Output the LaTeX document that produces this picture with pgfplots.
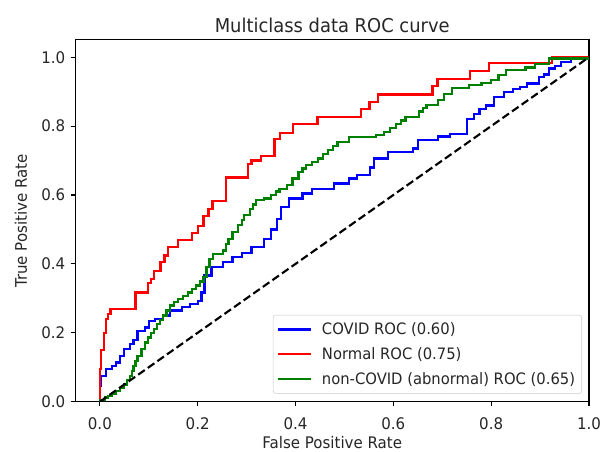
\documentclass[border=0pt]{standalone}
\usepackage{fontspec}
\setmainfont{DejaVu Sans}[FakeStretch=0.94]
\usepackage{pgfplots}
\pgfplotsset{compat=1.18}
\definecolor{mplblue}{RGB}{0,0,255}
\definecolor{mplred}{RGB}{255,0,0}
\definecolor{mplgreen}{RGB}{0,128,0}
\begin{document}
\begin{tikzpicture}
\path[use as bounding box] (-56.6pt,-37.5pt) rectangle (399.75pt,301.5pt);
\begin{axis}[
  at={(0,0)}, anchor=south west,
  scale only axis, width=385.5pt, height=271.5pt,
  xmin=-0.05, xmax=1.0, ymin=0, ymax=1.05,
  xtick={0,0.2,0.4,0.6,0.8,1}, ytick={0,0.2,0.4,0.6,0.8,1},
  tick pos=left, tick align=outside, major tick length=3.6pt,
  every tick/.style={black, line width=0.8pt},
  axis line style={black, line width=0.8pt},
  /pgf/number format/assume math mode=true,
  /pgf/number format/.cd, fixed, fixed zerofill, precision=1, /pgfplots/.cd,
  ticklabel style={font=\fontsize{12}{14}\selectfont, text=black!85},
  xticklabel style={yshift=-5pt},
  yticklabel style={xshift=-0.5pt},
  title={Multiclass data ROC curve},
  title style={anchor=base, yshift=-0.75pt, font=\fontsize{14.3}{16}\selectfont, text=black!85},
  xlabel={False Positive Rate},
  xlabel style={at={([yshift=-35.3pt]axis description cs:0.5,0)}, anchor=base, font=\fontsize{12}{14}\selectfont, text=black!85},
  ylabel={True Positive Rate},
  ylabel style={at={([xshift=-36.4pt]axis description cs:0,0.5)}, anchor=base, font=\fontsize{12}{14}\selectfont, text=black!85},
  legend style={at={(1,0)}, anchor=south east, xshift=-5.25pt, yshift=6pt,
    draw=black!20, fill=white, fill opacity=0.8, text opacity=1, rounded corners=2pt,
    font=\fontsize{11.8}{14}\selectfont, text=black!85,
    inner xsep=3pt, inner ysep=3.5pt, row sep=4.2pt, column sep=5pt},
  legend cell align=left,
  legend image code/.code={\draw[#1] (0pt,0pt) -- (25pt,0pt);},
]
\addplot[const plot, mplblue, line width=1.7pt] coordinates {
(0,0) (0,0.046) (0.003,0.075) (0.013,0.094) (0.025,0.104) (0.033,0.114)
(0.041,0.133) (0.049,0.152) (0.061,0.167) (0.069,0.18) (0.077,0.206)
(0.093,0.215) (0.1,0.235) (0.113,0.24) (0.129,0.25) (0.144,0.265)
(0.168,0.275) (0.184,0.283) (0.2,0.293) (0.208,0.317) (0.214,0.366)
(0.228,0.39) (0.252,0.405) (0.271,0.42) (0.29,0.432) (0.31,0.45)
(0.335,0.473) (0.35,0.5) (0.362,0.53) (0.37,0.565) (0.386,0.59)
(0.414,0.604) (0.434,0.618) (0.478,0.633) (0.51,0.648) (0.525,0.657)
(0.553,0.68) (0.561,0.706) (0.589,0.725) (0.64,0.735) (0.651,0.76)
(0.692,0.77) (0.716,0.778) (0.75,0.82) (0.765,0.835) (0.776,0.85)
(0.79,0.86) (0.806,0.885) (0.826,0.9) (0.845,0.907) (0.859,0.914)
(0.873,0.924) (0.898,0.943) (0.908,0.95) (0.918,0.967) (0.93,0.975)
(0.942,0.987) (0.963,0.996) (1.0,1.0)
};
\addlegendentry{COVID ROC (0.60)}
\addplot[const plot, mplred, line width=1.7pt] coordinates {
(0,0) (0,0.094) (0.003,0.15) (0.008,0.2) (0.012,0.24) (0.016,0.255)
(0.022,0.27) (0.073,0.317) (0.099,0.345) (0.105,0.356) (0.11,0.38)
(0.124,0.405) (0.132,0.424) (0.14,0.45) (0.16,0.47) (0.188,0.49)
(0.2,0.51) (0.212,0.54) (0.222,0.56) (0.23,0.583) (0.258,0.651)
(0.303,0.69) (0.31,0.7) (0.33,0.714) (0.357,0.763) (0.368,0.78)
(0.395,0.805) (0.445,0.826) (0.534,0.85) (0.551,0.87) (0.568,0.892)
(0.68,0.917) (0.69,0.937) (0.756,0.96) (0.795,0.984) (0.925,1.0) (1.0,1.0)
};
\addlegendentry{Normal ROC (0.75)}
\addplot[const plot, mplgreen, line width=1.7pt] coordinates {
(0,0) (0,0.005) (0.01,0.012) (0.017,0.017) (0.025,0.024) (0.033,0.031)
(0.041,0.04) (0.049,0.05) (0.055,0.062) (0.061,0.075) (0.065,0.09)
(0.069,0.104) (0.073,0.118) (0.077,0.133) (0.085,0.152) (0.093,0.172)
(0.099,0.186) (0.105,0.2) (0.111,0.212) (0.117,0.225) (0.123,0.237)
(0.129,0.25) (0.136,0.265) (0.144,0.279) (0.152,0.29) (0.16,0.298)
(0.17,0.307) (0.18,0.317) (0.188,0.327) (0.196,0.337) (0.204,0.349)
(0.212,0.361) (0.218,0.39) (0.224,0.415) (0.232,0.429) (0.252,0.439)
(0.258,0.458) (0.263,0.473) (0.271,0.492) (0.283,0.512) (0.29,0.527)
(0.295,0.541) (0.307,0.56) (0.313,0.572) (0.319,0.585) (0.335,0.59)
(0.35,0.6) (0.36,0.61) (0.367,0.618) (0.383,0.628) (0.394,0.648)
(0.406,0.667) (0.414,0.677) (0.422,0.686) (0.434,0.696) (0.446,0.706)
(0.456,0.718) (0.466,0.73) (0.476,0.742) (0.486,0.754) (0.51,0.769)
(0.565,0.775) (0.581,0.783) (0.593,0.795) (0.605,0.805) (0.615,0.816)
(0.625,0.827) (0.652,0.842) (0.66,0.852) (0.668,0.861) (0.692,0.876)
(0.704,0.894) (0.72,0.91) (0.755,0.919) (0.78,0.925) (0.80,0.933)
(0.815,0.948) (0.83,0.962) (0.87,0.97) (0.89,0.98) (0.918,0.996) (1.0,1.0)
};
\addlegendentry{non-COVID (abnormal) ROC (0.65)}
\addplot[black, line width=1.6pt, dash pattern=on 6pt off 2.8pt, forget plot] coordinates {(0,0) (1,1)};
\end{axis}
\end{tikzpicture}
\end{document}
